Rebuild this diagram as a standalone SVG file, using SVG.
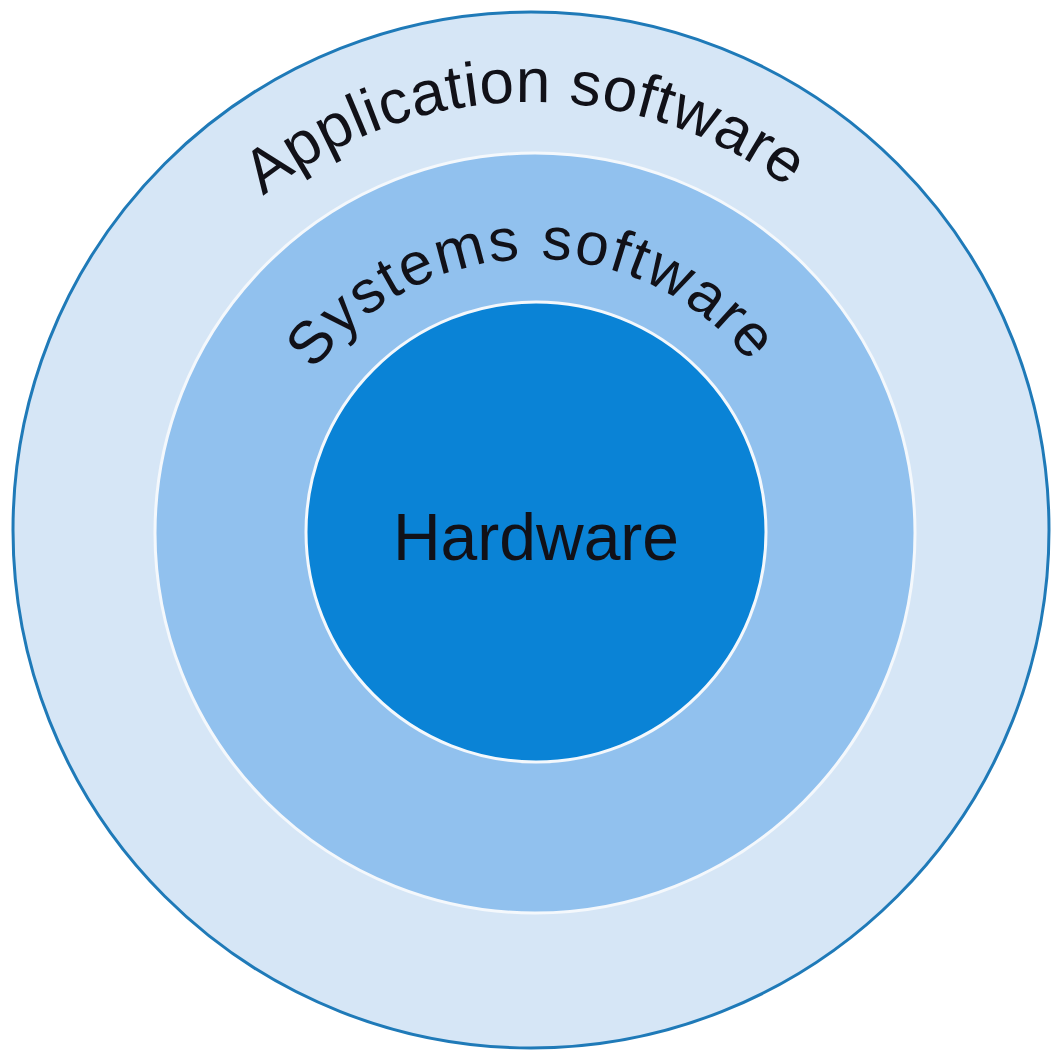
<svg xmlns="http://www.w3.org/2000/svg" width="1051" height="1055" viewBox="0 0 1051 1055">
<style>
.lbl{font-family:"Liberation Sans",Arial,sans-serif;fill:#111118}
.arc{font-size:62px;letter-spacing:0.5px}
</style>
<defs>
<path id="pApp" d="M103,530 A428,428 0 0 1 959,530"/>
<path id="pSys" d="M261,533 A274,274 0 0 1 809,533"/>
</defs>
<rect width="1051" height="1055" fill="#ffffff"/>
<g id="application">
<circle cx="531" cy="530" r="518" fill="#d6e6f6" stroke="#1f7ab8" stroke-width="3"/>
<text class="lbl arc"><textPath href="#pApp" startOffset="49.5%" text-anchor="middle">Application software</textPath></text>
</g>
<g id="systems">
<circle cx="535" cy="533" r="380" fill="#91c1ee" stroke="#f4f8fc" stroke-width="3"/>
<text class="lbl arc" style="font-size:60px;letter-spacing:2px"><textPath href="#pSys" startOffset="49.5%" text-anchor="middle">Systems software</textPath></text>
</g>
<g id="hardware">
<circle cx="536" cy="532" r="230" fill="#0a83d6" stroke="#f4f8fc" stroke-width="3"/>
<text class="lbl" x="536" y="560" font-size="66" text-anchor="middle">Hardware</text>
</g>
<g id="connectors"></g>
</svg>
